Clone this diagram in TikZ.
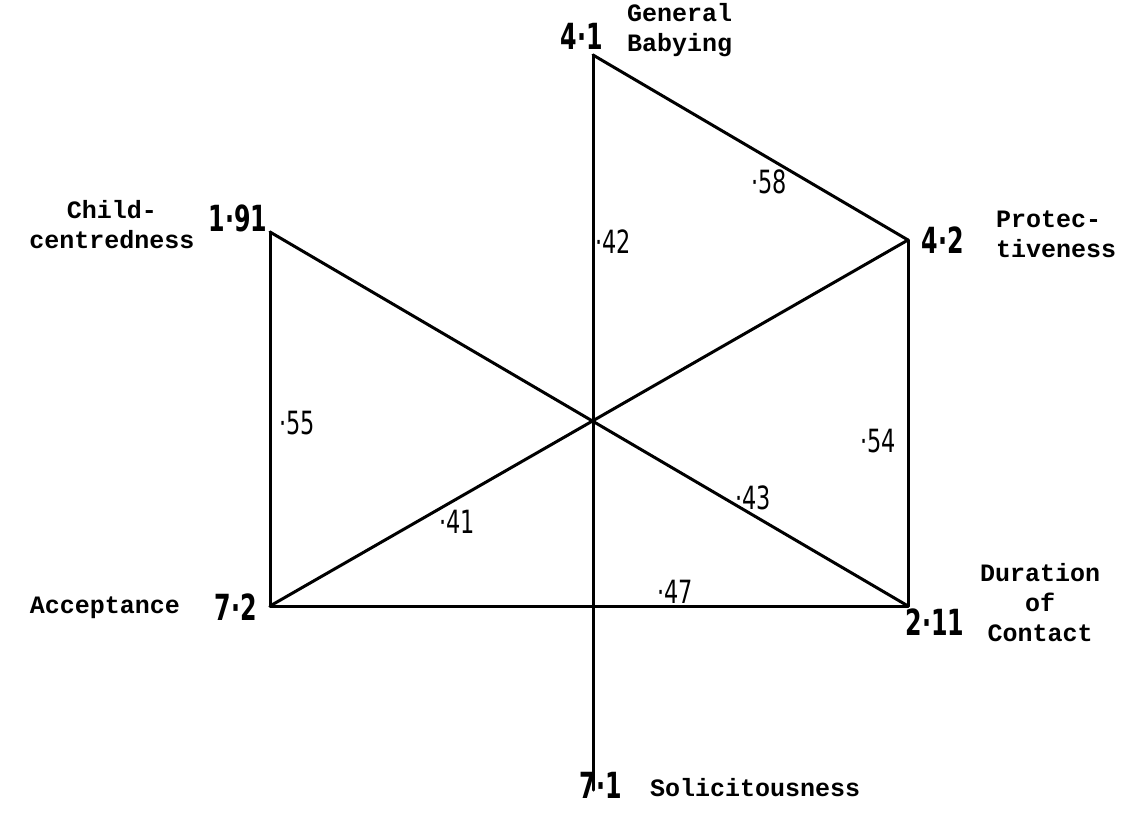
\documentclass[tikz,border=0pt]{standalone}
\usepackage{fontspec}
\usepackage{graphicx}
\setmonofont{Liberation Mono}
\newfontfamily\numfont{DejaVu Sans}
\newcommand{\vnum}[1]{{\numfont\bfseries\fontsize{36}{40}\selectfont\scalebox{0.66}[1]{#1}}}
\newcommand{\enum}[1]{{\numfont\fontsize{32}{36}\selectfont\scalebox{0.7}[1]{#1}}}
\begin{document}
\begin{tikzpicture}[x=1pt,y=-1pt,
  edge/.style={line width=3pt,line cap=round},
  lab/.style={font=\ttfamily\bfseries\fontsize{25}{30}\selectfont,inner sep=0pt,align=left},
  vn/.style={inner sep=0pt},
  en/.style={inner sep=0pt}]
\useasboundingbox (0,0) rectangle (1131,835);
% vertices
\coordinate (T) at (593,55);
\coordinate (P) at (908,240);
\coordinate (C) at (270,232);
\coordinate (A) at (270,606);
\coordinate (D) at (908,606);
\coordinate (S) at (593,790);
% edges
\draw[edge] (T) -- (S);
\draw[edge] (T) -- (P);
\draw[edge] (C) -- (A);
\draw[edge] (C) -- (D);
\draw[edge] (A) -- (P);
\draw[edge] (A) -- (D);
\draw[edge] (P) -- (D);
% vertex numbers
\node[vn] (nT) at (582,36) {\vnum{4·1}};
\node[vn] (nC) at (238,218) {\vnum{1·91}};
\node[vn] (nP) at (943,240) {\vnum{4·2}};
\node[vn] (nA) at (236,607) {\vnum{7·2}};
\node[vn] (nD) at (935,622) {\vnum{2·11}};
\node[vn] (nS) at (601,785) {\vnum{7·1}};
% labels
\node[lab,anchor=west] (lT) at (627,30) {General\\Babying};
\node[lab,align=center] (lC) at (112,225) {Child-\\centredness};
\node[lab,anchor=west] (lP) at (996,234) {Protec-\\tiveness};
\node[lab,anchor=east] (lA) at (180,608) {Acceptance};
\node[lab,align=center] (lD) at (1040,603) {Duration\\of\\Contact};
\node[lab,anchor=west] (lS) at (650,788) {Solicitousness};
% edge values
\node[en] (e58) at (769,182) {\enum{·58}};
\node[en] (e42) at (613,242) {\enum{·42}};
\node[en] (e55) at (297,423) {\enum{·55}};
\node[en] (e54) at (878,441) {\enum{·54}};
\node[en] (e43) at (753,498) {\enum{·43}};
\node[en] (e41) at (457,522) {\enum{·41}};
\node[en] (e47) at (675,592) {\enum{·47}};
\end{tikzpicture}
\end{document}
